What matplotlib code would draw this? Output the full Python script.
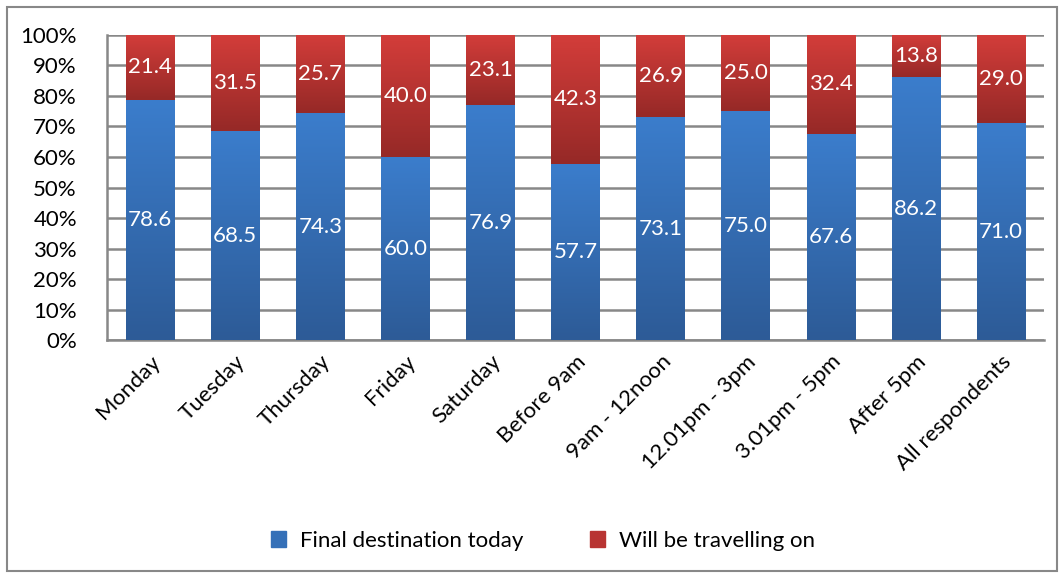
import numpy as np
import matplotlib
matplotlib.use("Agg")
import matplotlib.pyplot as plt
from matplotlib.colors import LinearSegmentedColormap
from matplotlib.patches import Rectangle

categories = ["Monday", "Tuesday", "Thursday", "Friday", "Saturday", "Before 9am",
              "9am - 12noon", "12.01pm - 3pm", "3.01pm - 5pm", "After 5pm", "All respondents"]
final_dest = [78.6, 68.5, 74.3, 60.0, 76.9, 57.7, 73.1, 75.0, 67.6, 86.2, 71.0]
travelling_on = [21.4, 31.5, 25.7, 40.0, 23.1, 42.3, 26.9, 25.0, 32.4, 13.8, 29.0]
y_ticks = [0, 10, 20, 30, 40, 50, 60, 70, 80, 90, 100]

plt.rcParams['font.family'] = ['Lato', 'DejaVu Sans']
fs = 16

fig = plt.figure(figsize=(10.64, 5.77), dpi=100)
ax = fig.add_axes([0.101, 0.41, 0.880, 0.53])

blue_cmap = LinearSegmentedColormap.from_list("b", ["#2d5b97", "#3b7dcc"])
red_cmap = LinearSegmentedColormap.from_list("r", ["#962927", "#d33d3a"])
grad = np.linspace(0, 1, 100).reshape(-1, 1)

x = np.arange(len(categories))
width = 0.575

def gradient_bars(xs, heights, bottoms, cmap, label):
    bars = ax.bar(xs, heights, width, bottom=bottoms, color=cmap(0.7), label=label, zorder=3)
    for b in bars:
        x0, y0 = b.get_x(), b.get_y()
        w, h = b.get_width(), b.get_height()
        im = ax.imshow(grad, cmap=cmap, origin="lower", aspect="auto",
                       extent=[x0, x0 + w, y0, y0 + h], zorder=3)
        im.set_clip_path(b)
    return bars

gradient_bars(x, final_dest, 0, blue_cmap, "Final destination today")
gradient_bars(x, travelling_on, final_dest, red_cmap, "Will be travelling on")

for i in range(len(categories)):
    ax.text(x[i], final_dest[i] / 2, f"{final_dest[i]:.1f}", ha="center", va="center",
            color="white", fontsize=fs, zorder=5)
    ax.text(x[i], final_dest[i] + travelling_on[i] / 2, f"{travelling_on[i]:.1f}",
            ha="center", va="center", color="white", fontsize=fs, zorder=5)

ax.set_xlim(-0.5, len(categories) - 0.5)
ax.set_ylim(0, 100)
ax.set_yticks(y_ticks)
ax.set_yticklabels([f"{t}%" for t in y_ticks], fontsize=fs)
ax.yaxis.grid(True, color="#888888", linewidth=1.8, zorder=0)
ax.set_axisbelow(True)
ax.set_xticks(x)
ax.set_xticklabels(categories, rotation=45, ha="right", rotation_mode="anchor", fontsize=fs)
ax.tick_params(axis="x", length=0, pad=8)
ax.tick_params(axis="y", length=0, pad=22)
for s in ["top", "right"]:
    ax.spines[s].set_visible(False)
ax.spines["left"].set_color("#888888")
ax.spines["left"].set_linewidth(1.8)
ax.spines["bottom"].set_color("#888888")
ax.spines["bottom"].set_linewidth(1.8)

handles = [Rectangle((0, 0), 1, 1, color="#3570b8"), Rectangle((0, 0), 1, 1, color="#b83432")]
fig.legend(handles, ["Final destination today", "Will be travelling on"], loc="center",
           bbox_to_anchor=(0.51, 0.063), ncol=2, frameon=False, fontsize=fs,
           handlelength=0.7, handleheight=0.7, columnspacing=3.0, handletextpad=0.6)

fig.patches.append(Rectangle((0.007, 0.01), 0.986, 0.978, transform=fig.transFigure,
                             fill=False, edgecolor="#888888", linewidth=1.5))

fig.savefig("out.png", dpi=100)
